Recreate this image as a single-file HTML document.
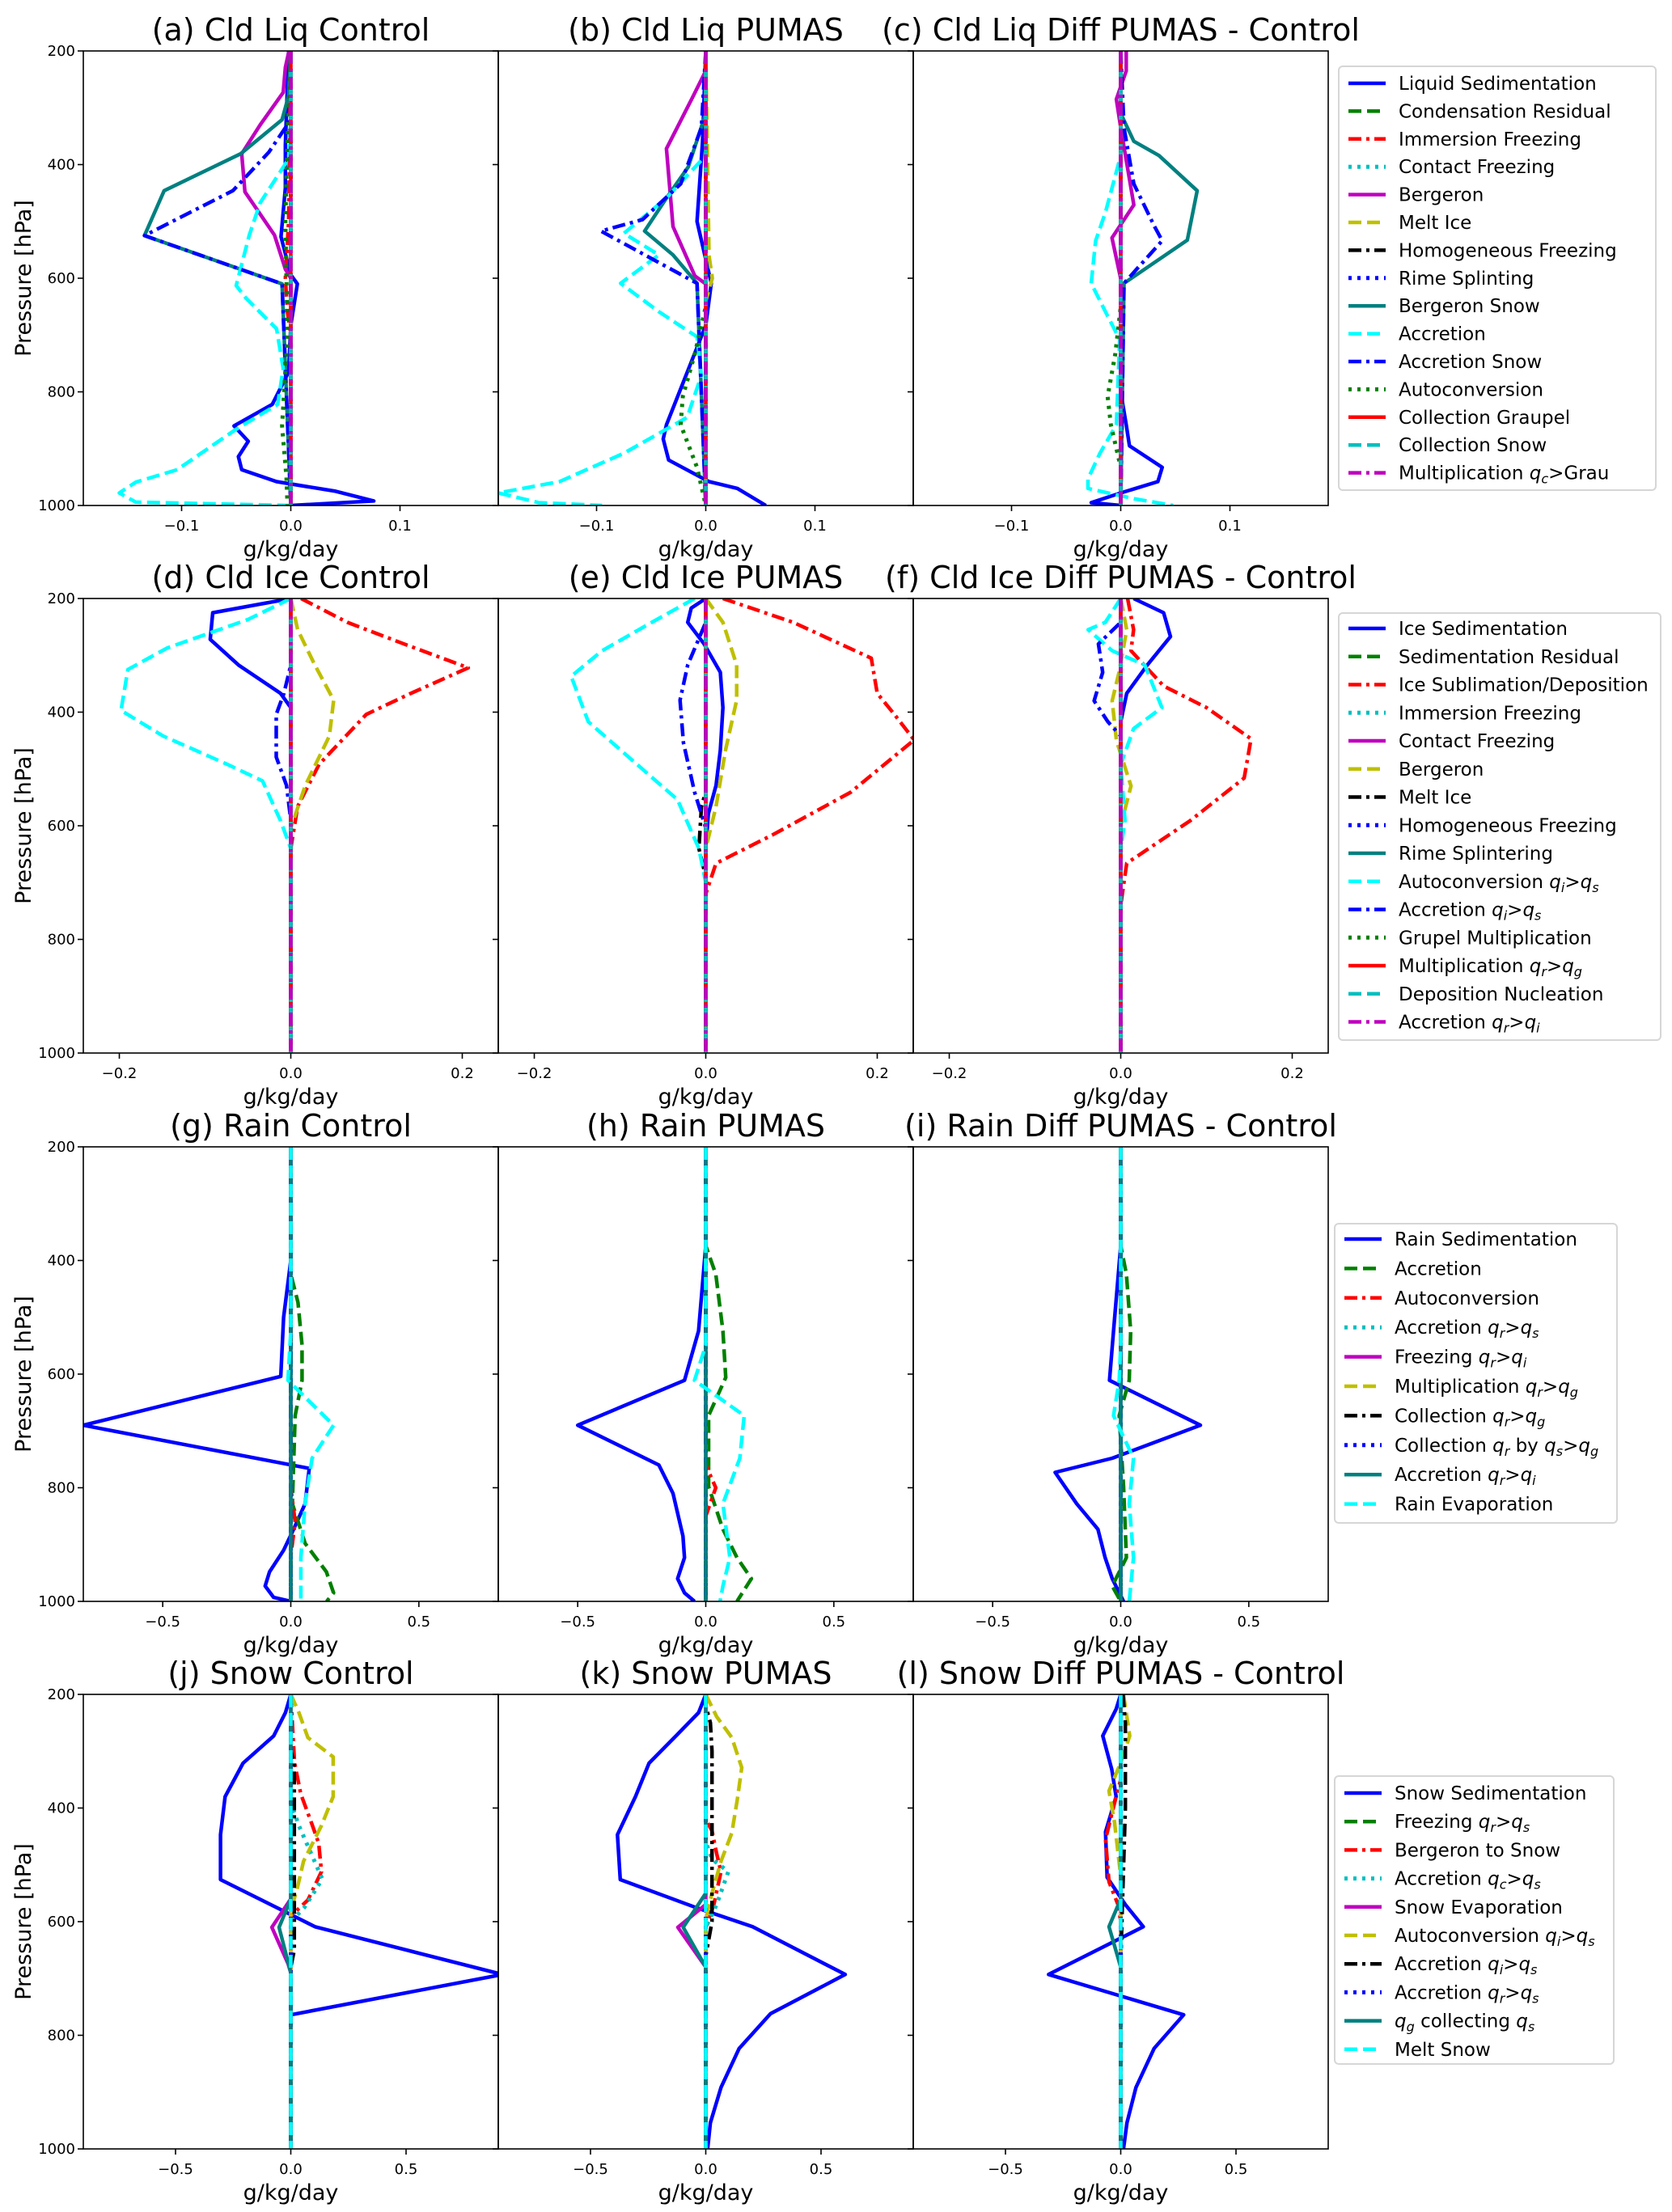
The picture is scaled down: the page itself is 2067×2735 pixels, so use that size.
<!DOCTYPE html>
<html><head><meta charset="utf-8">
<style>
html,body{margin:0;padding:0;background:#fff;}
svg{display:block;font-family:"DejaVu Sans","Liberation Sans",sans-serif;}
</style></head>
<body>
<svg id="fig" width="2067" height="2735" viewBox="0 0 2067 2735" xmlns="http://www.w3.org/2000/svg"></svg>
<script>
// ---------- data (pressure levels hPa / tendency g/kg/day) ----------
const a_sed_p=[200,365,441,527,594,610,683,765,822,860,887,914,937,958,975,992];
const a_sed_v=[-0.002,-0.005,-0.005,-0.009,0,0.006,0,-0.002,-0.017,-0.052,-0.039,-0.048,-0.045,-0.013,0.041,0.076];
const a_berg_p=[203,229,273,330,381,448,524,584,600];
const a_berg_v=[-0.002,-0.005,-0.007,-0.028,-0.045,-0.042,-0.015,-0.005,0];
const a_bsnow_p=[279,321,381,446,525,610];
const a_bsnow_v=[-0.002,-0.008,-0.046,-0.116,-0.134,-0.008];
const a_acc_p=[321,390,467,524,613,635,689,759,822,867,937,959,978,994];
const a_acc_v=[0,-0.002,-0.028,-0.038,-0.05,-0.041,-0.013,-0.007,-0.012,-0.051,-0.104,-0.142,-0.157,-0.142];
const a_accs_p=[321,378,446,525,610];
const a_accs_v=[0,-0.02,-0.053,-0.134,-0.008];
const a_auto_p=[350,500,700,860,950,1000];
const a_auto_v=[-0.003,-0.005,-0.003,-0.008,-0.004,-0.003];
const a_imm_p=[500,600,660,700];
const a_imm_v=[-0.002,-0.005,-0.003,0];

const b_sed_p=[360,500,609,683,858,883,920,958,970,1000];
const b_sed_v=[-0.003,-0.008,0.005,0,-0.036,-0.039,-0.034,0.003,0.029,0.055];
const b_bsnow_p=[310,404,459,517,559,609];
const b_bsnow_v=[0,-0.016,-0.036,-0.056,-0.03,-0.008];
const b_accs_p=[335,434,497,517,609];
const b_accs_v=[-0.004,-0.023,-0.058,-0.096,-0.008];
const b_berg_p=[235,285,372,509,596,610];
const b_berg_v=[0,-0.013,-0.036,-0.03,-0.01,0];
const b_acc_p=[384,459,521,559,609,659,703,771,845,908,958,978,995,1000];
const b_acc_v=[0,-0.036,-0.075,-0.043,-0.078,-0.043,-0.008,-0.004,-0.017,-0.075,-0.134,-0.19,-0.153,-0.095];
const b_auto_p=[650,733,808,858,933,1000];
const b_auto_v=[0,-0.01,-0.021,-0.023,-0.008,0];
const b_melt_p=[560,600,640];
const b_melt_v=[0.003,0.006,0];

const c_sed_p=[800,858,895,933,958,978,995];
const c_sed_v=[0,0.005,0.008,0.038,0.034,0,-0.027];
const c_bsnow_p=[310,359,384,446,533,609];
const c_bsnow_v=[0,0.012,0.035,0.07,0.061,0.003];
const c_accs_p=[335,434,509,534,609];
const c_accs_v=[0.003,0.012,0.031,0.038,0.003];
const c_berg_p=[200,235,285,335,471,529,601];
const c_berg_v=[0.005,0.005,-0.004,0,0.012,-0.008,0];
const c_acc_p=[384,484,534,609,659,708,858,908,953,970,988,1000];
const c_acc_v=[0,-0.014,-0.023,-0.027,-0.014,-0.001,-0.004,-0.019,-0.03,-0.03,0.012,0.048];
const c_auto_p=[650,733,808,858,933];
const c_auto_v=[0,-0.005,-0.012,-0.009,0];

const d_sed_p=[200,225,272,317,367,392];
const d_sed_v=[0,-0.091,-0.094,-0.061,-0.012,0];
const d_sub_p=[200,242,280,322,367,404,492,566,640];
const d_sub_v=[0.012,0.066,0.132,0.207,0.14,0.088,0.033,0.008,0];
const d_auto_p=[200,237,287,325,397,442,492,521,591,640];
const d_auto_v=[0,-0.05,-0.144,-0.19,-0.198,-0.149,-0.074,-0.033,-0.012,0];
const d_berg_p=[200,255,317,379,442,529,604];
const d_berg_v=[0,0.008,0.028,0.05,0.045,0.017,0];
const d_accs_p=[317,367,404,479,529,590];
const d_accs_v=[0,-0.008,-0.017,-0.017,-0.005,0];

const e_sed_p=[200,217,242,280,330,392,467,529,579,640];
const e_sed_v=[0,-0.017,-0.021,-0.002,0.017,0.02,0.017,0.012,0.003,0];
const e_sub_p=[200,242,305,367,404,449,541,616,666,720];
const e_sub_v=[0.02,0.102,0.193,0.2,0.22,0.243,0.169,0.078,0.012,0];
const e_auto_p=[200,242,292,337,417,504,554,640,700];
const e_auto_v=[-0.013,-0.063,-0.121,-0.157,-0.137,-0.071,-0.033,-0.008,0];
const e_berg_p=[200,242,317,379,467,566,640];
const e_berg_v=[0,0.02,0.036,0.036,0.023,0.012,0];
const e_accs_p=[242,317,379,454,541,604];
const e_accs_v=[0,-0.021,-0.03,-0.026,-0.013,0];
const e_melt_p=[540,566,640,690];
const e_melt_v=[0,-0.005,-0.008,0];

const f_sed_p=[200,225,267,317,367,417];
const f_sed_v=[0.015,0.05,0.058,0.031,0.007,0];
const f_sub_p=[200,255,292,354,392,447,516,591,666,740];
const f_sub_v=[0.008,0.015,0.012,0.05,0.1,0.152,0.144,0.081,0.007,0];
const f_auto_p=[200,242,255,292,317,392,429,492,591,640];
const f_auto_v=[0,-0.018,-0.038,-0.01,0.028,0.048,0.015,0,0.005,0];
const f_berg_p=[255,330,380,450,530,600];
const f_berg_v=[0.007,-0.002,-0.01,-0.005,0.012,0];
const f_accs_p=[242,280,330,380,417,442];
const f_accs_v=[0,-0.026,-0.021,-0.031,-0.015,0];

const g_sed_p=[400,500,604,690,766,828,873,910,948,973,993];
const g_sed_v=[0,-0.028,-0.039,-0.81,0.072,0.056,0.011,-0.028,-0.083,-0.1,-0.067];
const g_acc_p=[424,474,549,611,673,828,898,948,985,1000];
const g_acc_v=[0,0.028,0.044,0.044,0.017,0.006,0.056,0.139,0.167,0.14];
const g_evap_p=[524,611,690,748,828,923,1000];
const g_evap_v=[0,-0.011,0.167,0.083,0.056,0.039,0.039];
const g_auto_p=[800,860,920];
const g_auto_v=[0,0.017,0];

const h_sed_p=[374,524,611,690,760,810,885,923,960,985,1000];
const h_sed_v=[0,-0.028,-0.083,-0.5,-0.183,-0.128,-0.089,-0.083,-0.11,-0.083,-0.044];
const h_acc_p=[374,424,524,606,673,798,873,923,960,1000];
const h_acc_v=[0,0.039,0.067,0.078,0.011,0.011,0.067,0.122,0.178,0.122];
const h_evap_p=[549,611,673,748,828,923,973,1000];
const h_evap_v=[0,-0.044,0.15,0.133,0.067,0.094,0.067,0.056];
const h_auto_p=[760,800,850];
const h_auto_v=[0,0.039,0];

const i_sed_p=[374,524,611,690,748,773,828,873,923,960,1000];
const i_sed_v=[0,-0.028,-0.044,0.311,-0.033,-0.256,-0.172,-0.089,-0.061,-0.033,0.011];
const i_acc_p=[374,424,524,611,673,798,923,973,1000];
const i_acc_v=[0,0.022,0.039,0.033,-0.006,0.011,0.022,-0.033,0];
const i_evap_p=[549,611,673,748,828,923,1000];
const i_evap_v=[0,-0.006,-0.028,0.05,0.033,0.05,0.033];

const j_sed_p=[200,232,273,321,380,447,526,593,609,693,764];
const j_sed_v=[0,-0.023,-0.074,-0.207,-0.285,-0.305,-0.305,0.027,0.105,0.918,0];
const j_auto_p=[200,232,276,310,380,431,494,543,580];
const j_auto_v=[0,0.035,0.074,0.184,0.184,0.133,0.055,0.027,0];
const j_berg_p=[320,375,431,462,512,562,590];
const j_berg_v=[0.016,0.043,0.094,0.121,0.133,0.074,0];
const j_accqc_p=[390,431,525,575,600];
const j_accqc_v=[0,0.035,0.137,0.059,0];
const j_evap_p=[560,610,674,690];
const j_evap_v=[0,-0.082,-0.012,0];
const j_qg_p=[560,610,690];
const j_qg_v=[0,-0.051,0];
const j_accqi_p=[300,320,650,680];
const j_accqi_v=[0,0.015,0.015,0];

const k_sed_p=[200,232,273,321,380,447,526,574,609,693,762,823,892,954,1000];
const k_sed_v=[0,-0.031,-0.129,-0.246,-0.305,-0.383,-0.371,-0.051,0.203,0.605,0.281,0.145,0.066,0.02,0.008];
const k_auto_p=[200,239,276,329,385,444,494,550,595];
const k_auto_v=[0,0.047,0.113,0.156,0.137,0.113,0.066,0.027,0];
const k_berg_p=[420,440,480,512,570,610];
const k_berg_v=[0,0.027,0.047,0.066,0.035,0];
const k_accqc_p=[460,490,512,570,610];
const k_accqc_v=[0,0.027,0.098,0.047,0];
const k_accqi_p=[220,250,300,600,660];
const k_accqi_v=[0,0.02,0.027,0.027,0];
const k_evap_p=[570,610,680];
const k_evap_v=[0,-0.121,0];
const k_qg_p=[550,610,680];
const k_qg_v=[0,-0.098,0];

const l_sed_p=[200,226,273,332,380,442,522,570,609,693,764,823,892,954,1000];
const l_sed_v=[0,-0.02,-0.078,-0.039,-0.02,-0.066,-0.059,0.02,0.098,-0.313,0.273,0.145,0.066,0.027,0.012];
const l_auto_p=[200,273,320,370,425,520];
const l_auto_v=[0.012,0.039,0,-0.051,-0.027,0];
const l_berg_p=[350,380,455,530,570,600];
const l_berg_v=[0,-0.02,-0.066,-0.051,-0.012,0];
const l_qg_p=[560,609,680];
const l_qg_v=[0,-0.051,0];
const l_accqi_p=[200,250,400,600,680];
const l_accqi_v=[0.01,0.02,0.02,0.005,0];

const yTicks=[200,400,600,800,1000];
const xTicks1=[-0.1,0,0.1], xTicks2=[-0.2,0,0.2], xTicks3=[-0.5,0,0.5];
const xLabels1=["\u22120.1","0.0","0.1"], xLabels2=["\u22120.2","0.0","0.2"], xLabels3=["\u22120.5","0.0","0.5"];

const legend1=["Liquid Sedimentation","Condensation Residual","Immersion Freezing","Contact Freezing","Bergeron","Melt Ice","Homogeneous Freezing","Rime Splinting","Bergeron Snow","Accretion","Accretion Snow","Autoconversion","Collection Graupel","Collection Snow","Multiplication |q|c|>Grau"];
const legend2=["Ice Sedimentation","Sedimentation Residual","Ice Sublimation/Deposition","Immersion Freezing","Contact Freezing","Bergeron","Melt Ice","Homogeneous Freezing","Rime Splintering","Autoconversion |q|i|>|q|s","Accretion |q|i|>|q|s","Grupel Multiplication","Multiplication |q|r|>|q|g","Deposition Nucleation","Accretion |q|r|>|q|i"];
const legend3=["Rain Sedimentation","Accretion","Autoconversion","Accretion |q|r|>|q|s","Freezing |q|r|>|q|i","Multiplication |q|r|>|q|g","Collection |q|r|>|q|g","Collection |q|r| by |q|s|>|q|g","Accretion |q|r|>|q|i","Rain Evaporation"];
const legend4=["Snow Sedimentation","Freezing |q|r|>|q|s","Bergeron to Snow","Accretion |q|c|>|q|s","Snow Evaporation","Autoconversion |q|i|>|q|s","Accretion |q|i|>|q|s","Accretion |q|r|>|q|s","|q|g| collecting |q|s","Melt Snow"];

// ---------- styles ----------
const COLORS=["#0000ff","#008000","#ff0000","#00bfbf","#bf00bf","#bfbf00","#000000","#0000ff","#008080","#00ffff","#0000ff","#008000","#ff0000","#00bfbf","#bf00bf"];
const DASHES=["none","16,7","16,6,4,6","4,7","none","16,7","16,6,4,6","4,7","none","16,7","16,6,4,6","4,7","none","16,7","16,6,4,6"];

const NS="http://www.w3.org/2000/svg";
const svg=document.getElementById('fig');
function mk(tag,attrs,parent){const e=document.createElementNS(NS,tag);for(const k in attrs)e.setAttribute(k,attrs[k]);(parent||svg).appendChild(e);return e;}

const colX=[103,616,1129], PW=513, PH=562;
const rowY=[63,740,1418,2095];
const xMax=[0.19,0.242,0.81,0.9];

const panels=[
 {r:0,c:0,title:"(a) Cld Liq Control",series:[[0,a_sed_p,a_sed_v],[2,a_imm_p,a_imm_v],[4,a_berg_p,a_berg_v],[8,a_bsnow_p,a_bsnow_v],[9,a_acc_p,a_acc_v],[10,a_accs_p,a_accs_v],[11,a_auto_p,a_auto_v]]},
 {r:0,c:1,title:"(b) Cld Liq PUMAS",series:[[0,b_sed_p,b_sed_v],[4,b_berg_p,b_berg_v],[5,b_melt_p,b_melt_v],[8,b_bsnow_p,b_bsnow_v],[9,b_acc_p,b_acc_v],[10,b_accs_p,b_accs_v],[11,b_auto_p,b_auto_v]]},
 {r:0,c:2,title:"(c) Cld Liq Diff PUMAS - Control",series:[[0,c_sed_p,c_sed_v],[4,c_berg_p,c_berg_v],[8,c_bsnow_p,c_bsnow_v],[9,c_acc_p,c_acc_v],[10,c_accs_p,c_accs_v],[11,c_auto_p,c_auto_v]]},
 {r:1,c:0,title:"(d) Cld Ice Control",series:[[0,d_sed_p,d_sed_v],[2,d_sub_p,d_sub_v],[5,d_berg_p,d_berg_v],[9,d_auto_p,d_auto_v],[10,d_accs_p,d_accs_v]]},
 {r:1,c:1,title:"(e) Cld Ice PUMAS",series:[[0,e_sed_p,e_sed_v],[2,e_sub_p,e_sub_v],[5,e_berg_p,e_berg_v],[6,e_melt_p,e_melt_v],[9,e_auto_p,e_auto_v],[10,e_accs_p,e_accs_v]]},
 {r:1,c:2,title:"(f) Cld Ice Diff PUMAS - Control",series:[[0,f_sed_p,f_sed_v],[2,f_sub_p,f_sub_v],[5,f_berg_p,f_berg_v],[9,f_auto_p,f_auto_v],[10,f_accs_p,f_accs_v]]},
 {r:2,c:0,title:"(g) Rain Control",series:[[0,g_sed_p,g_sed_v],[1,g_acc_p,g_acc_v],[2,g_auto_p,g_auto_v],[9,g_evap_p,g_evap_v]]},
 {r:2,c:1,title:"(h) Rain PUMAS",series:[[0,h_sed_p,h_sed_v],[1,h_acc_p,h_acc_v],[2,h_auto_p,h_auto_v],[9,h_evap_p,h_evap_v]]},
 {r:2,c:2,title:"(i) Rain Diff PUMAS - Control",series:[[0,i_sed_p,i_sed_v],[1,i_acc_p,i_acc_v],[9,i_evap_p,i_evap_v]]},
 {r:3,c:0,title:"(j) Snow Control",series:[[0,j_sed_p,j_sed_v],[2,j_berg_p,j_berg_v],[3,j_accqc_p,j_accqc_v],[4,j_evap_p,j_evap_v],[5,j_auto_p,j_auto_v],[6,j_accqi_p,j_accqi_v],[8,j_qg_p,j_qg_v]]},
 {r:3,c:1,title:"(k) Snow PUMAS",series:[[0,k_sed_p,k_sed_v],[2,k_berg_p,k_berg_v],[3,k_accqc_p,k_accqc_v],[4,k_evap_p,k_evap_v],[5,k_auto_p,k_auto_v],[6,k_accqi_p,k_accqi_v],[8,k_qg_p,k_qg_v]]},
 {r:3,c:2,title:"(l) Snow Diff PUMAS - Control",series:[[0,l_sed_p,l_sed_v],[2,l_berg_p,l_berg_v],[5,l_auto_p,l_auto_v],[6,l_accqi_p,l_accqi_v],[8,l_qg_p,l_qg_v]]}
];
const nSeries=[15,15,10,10];
const xTicksR=[xTicks1,xTicks2,xTicks3,xTicks3], xLabelsR=[xLabels1,xLabels2,xLabels3,xLabels3];

const defs=mk('defs',{});
panels.forEach((P,pi)=>{
  const x0=colX[P.c], y0=rowY[P.r], xm=xMax[P.r];
  const sx=v=>x0+PW/2+v/xm*(PW/2);
  const sy=p=>y0+(p-200)/800*PH;
  const g=mk('g',{});
  
  
  const cp=mk('clipPath',{id:'cp'+pi},defs);
  mk('rect',{x:x0,y:y0,width:PW,height:PH},cp);
  const lg=mk('g',{'clip-path':'url(#cp'+pi+')'},g);
  const lookup={};P.series.forEach(s=>lookup[s[0]]=s);
  for(let k=0;k<nSeries[P.r];k++){
    let ps=[200,1000], vs=[0,0];
    if(lookup[k]){ps=lookup[k][1].slice();vs=lookup[k][2].slice();
      if(ps[0]>200){ps.unshift(200);vs.unshift(0);}
      if(ps[ps.length-1]<1000){ps.push(1000);vs.push(0);}}
    const pts=ps.map((p,i)=>sx(vs[i]).toFixed(1)+','+sy(p).toFixed(1)).join(' ');
    const pl=mk('polyline',{points:pts,fill:'none',stroke:COLORS[k],'stroke-width':(k==3||k==7||k==11)?5:4.5,'stroke-dasharray':DASHES[k],'stroke-linejoin':'round'},lg);
    
    
  }
  const fr=mk('rect',{x:x0,y:y0,width:PW,height:PH,fill:'none',stroke:'#000','stroke-width':1.6},g);
  
  
  yTicks.forEach(t=>{
    mk('line',{x1:x0-7,x2:x0,y1:sy(t),y2:sy(t),stroke:'#000','stroke-width':1.6},g);
    if(P.c===0){const tx=mk('text',{x:x0-10,y:sy(t)+6,'text-anchor':'end','font-size':18},g);tx.textContent=t;
      
      }
  });
  xTicksR[P.r].forEach((t,i)=>{
    mk('line',{x1:sx(t),x2:sx(t),y1:y0+PH,y2:y0+PH+7,stroke:'#000','stroke-width':1.6},g);
    const tx=mk('text',{x:sx(t),y:y0+PH+31,'text-anchor':'middle','font-size':18},g);tx.textContent=xLabelsR[P.r][i];
    
    
  });
  const xl=mk('text',{x:x0+PW/2,y:y0+PH+63,'text-anchor':'middle','font-size':27},g);xl.textContent='g/kg/day';
  
  
  const ti=mk('text',{x:x0+PW/2,y:y0-13,'text-anchor':'middle','font-size':38},g);ti.textContent=P.title;
  
  
  if(P.c===0){
    const yl=mk('text',{x:0,y:0,'text-anchor':'middle','font-size':27,transform:'translate(38,'+(y0+PH/2)+') rotate(-90)'},g);yl.textContent='Pressure [hPa]';
    
    
  }
});

// ---------- legends ----------
const legends=[legend1,legend2,legend3,legend4];
const legBox=[[1655,82,392,524],[1655,758,398,528],[1650,1513,349,370],[1650,2196,345,356]];
const legFirst=[103,777,1532,2217];
const legStep=[34.4,34.75,36.4,35.2];
legends.forEach((L,r)=>{
  const g=mk('g',{});
  
  
  const b=legBox[r];
  mk('rect',{x:b[0],y:b[1],width:b[2],height:b[3],rx:5,fill:'#fff',stroke:'#d6d6d6','stroke-width':2},g);
  L.forEach((lab,k)=>{
    const yy=legFirst[r]+k*legStep[r];
    const e=mk('g',{},g);
    
    
    mk('line',{x1:b[0]+12,x2:b[0]+58,y1:yy,y2:yy,stroke:COLORS[k],'stroke-width':(k==3||k==7||k==11)?5:4.5,'stroke-dasharray':DASHES[k]},e);
    const t=mk('text',{x:b[0]+74,y:yy+8,'font-size':23},e);
    const tokens=lab.split('|');
    let afterQ=false;
    tokens.forEach(tok=>{
      if(tok==='')return;
      if(tok==='q'){const s=mk('tspan',{'font-style':'italic'},t);s.textContent='q';afterQ=true;return;}
      if(afterQ){
        const sub=tok.charAt(0), rest=tok.slice(1);
        const s=mk('tspan',{'font-style':'italic','font-size':16,dy:5},t);s.textContent=sub;
        const s2=mk('tspan',{dy:-5},t);s2.textContent=rest||'\u200b';
        afterQ=false;return;
      }
      const s=mk('tspan',{},t);s.textContent=tok;
    });
  });
});
</script>
</body></html>
